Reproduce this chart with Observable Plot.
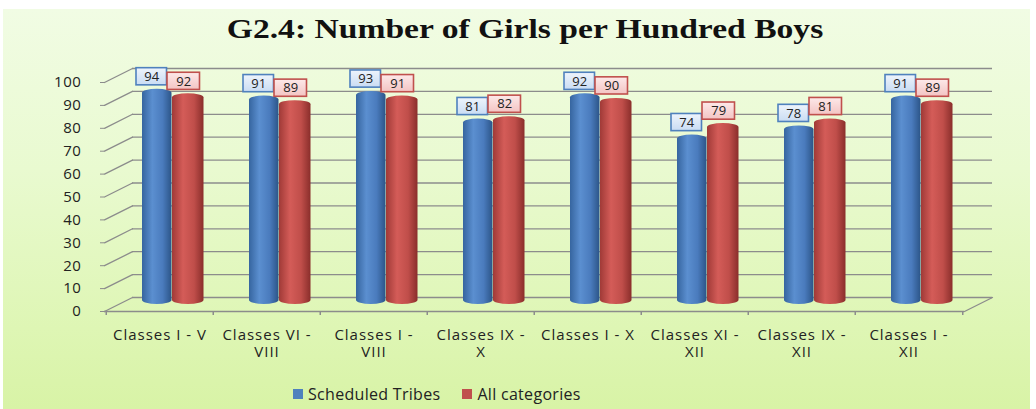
<!DOCTYPE html>
<html>
<head>
<meta charset="utf-8">
<script src="https://cdn.jsdelivr.net/npm/d3@7"></script>
<script src="https://cdn.jsdelivr.net/npm/@observablehq/plot@0.6"></script>
<style>
  html, body { margin: 0; padding: 0; width: 1036px; height: 409px; background: #fff; overflow: hidden; }
  #bg { position: absolute; left: 3px; top: 9px; width: 1027px; height: 400px;
        background: linear-gradient(to bottom, #f1fce4 0%, #e9fad0 40%, #def6b4 80%, #d8f3a6 100%); }
  #title { position: absolute; left: 7px; top: 13px; width: 1036px; text-align: center;
           font-family: "Liberation Serif", "Times New Roman", serif; font-weight: bold; font-size: 28px; color: #111;
           transform: scaleX(1.2); transform-origin: 518px 0; }
  #chart { position: absolute; left: 0; top: 50px; }
  #legend { position: absolute; left: 293px; top: 383px; display: flex; align-items: center;
            font-family: "Open Sans", sans-serif; font-size: 16px; color: #222; letter-spacing: 0.3px; }
  .sw { display: inline-block; width: 10px; height: 10px; margin-right: 5px; }
  .item { display: flex; align-items: center; margin-right: 22px; }
</style>
</head>
<body>
<div id="bg"></div>
<div id="title">G2.4: Number of Girls per Hundred Boys</div>
<div id="chart"></div>
<div id="legend"></div>
<script>
const categories = ["Classes I - V", "Classes VI -\nVIII", "Classes I -\nVIII", "Classes IX -\nX",
                    "Classes I - X", "Classes XI -\nXII", "Classes IX -\nXII", "Classes I -\nXII"];
const stValues = [94, 91, 93, 81, 92, 74, 78, 91];
const allValues = [92, 89, 91, 82, 90, 79, 81, 89];
const yTicks = [0, 10, 20, 30, 40, 50, 60, 70, 80, 90, 100];
const seriesNames = ["Scheduled Tribes", "All categories"];
const seriesColors = ["#4f81bd", "#c0504d"];

const rows = categories.map((c, i) => ({cat: c, st: stValues[i], all: allValues[i]}));
const half = 107.5 / 2;
const line = {draw(ctx, l) { ctx.moveTo(0, 0); ctx.lineTo(0, -l); }};
const gridColor = "#8c8c8c";

const chart = Plot.plot({
  width: 1036, height: 320,
  marginTop: 32, marginBottom: 59, marginLeft: 104, marginRight: 72,
  style: {background: "transparent", fontFamily: "Open Sans, sans-serif", fontSize: "14px", color: "#222"},
  x: {domain: categories, padding: 0, axis: null},
  y: {domain: [0, 100], axis: null},
  marks: [
    Plot.ruleY(yTicks, {y: d => d, dx: 28, dy: -14, stroke: gridColor, strokeWidth: 1.3}),
    Plot.vector(yTicks, {y: d => d, frameAnchor: "left", length: 31.3, rotate: 63.4, anchor: "start",
                         shape: line, stroke: gridColor, strokeWidth: 1.3}),
    Plot.vector([0], {y: d => d, frameAnchor: "right", length: 31.3, rotate: 63.4, anchor: "start",
                      shape: line, stroke: gridColor, strokeWidth: 1.3}),
    Plot.ruleY([0], {stroke: gridColor, strokeWidth: 1.5}),
    Plot.ruleX(categories, {x: d => d, dx: -half, y1: 0, y2: -1.8, stroke: gridColor, strokeWidth: 1.5}),
    Plot.ruleX(categories.slice(-1), {x: d => d, dx: half, y1: 0, y2: -1.8, stroke: gridColor, strokeWidth: 1.5}),
    Plot.axisY(yTicks, {tickSize: 4, tickPadding: 19, line: true, stroke: gridColor, fill: "#222", fontSize: 15,
                        label: null}),
    Plot.axisX({tickSize: 0, tickPadding: 16, lineHeight: 1.15, fill: "#222", fontSize: 15, label: null}),
    Plot.barY(rows, {x: "cat", y: "st", fill: "url(#gBlue)", insetLeft: 36, insetRight: 41.5, dy: -7, rx: 15, ry: 4}),
    Plot.barY(rows, {x: "cat", y1: d => d.st + 1.7, y2: d => d.st + 9.2, insetLeft: 30, insetRight: 46.5, dy: -7,
                     fill: "url(#gBlueBox)", stroke: "#4f81bd", strokeWidth: 1.6}),
    Plot.text(rows, {x: "cat", y: d => d.st + 5.45, dx: 45.5 - half, dy: -7, text: d => String(d.st),
                     fill: "#222", fontSize: 13}),
    Plot.barY(rows, {x: "cat", y: "all", fill: "url(#gRed)", insetLeft: 66, insetRight: 9.5, dy: -7, rx: 16, ry: 4}),
    Plot.barY(rows, {x: "cat", y1: d => d.all + 1.7, y2: d => d.all + 9.2, insetLeft: 61, insetRight: 13.5, dy: -7,
                     fill: "url(#gRedBox)", stroke: "#c0504d", strokeWidth: 1.6}),
    Plot.text(rows, {x: "cat", y: d => d.all + 5.45, dx: 77.5 - half, dy: -7, text: d => String(d.all),
                     fill: "#222", fontSize: 13})
  ]
});

chart.querySelectorAll("g[aria-label='x-axis tick label'] text").forEach(t => t.setAttribute("letter-spacing", "1"));
chart.querySelectorAll("g[aria-label='y-axis tick label'] text").forEach(t => t.setAttribute("letter-spacing", "0.6"));

const ns = "http://www.w3.org/2000/svg";
const defs = document.createElementNS(ns, "defs");
function grad(id, stops, vertical) {
  const g = document.createElementNS(ns, "linearGradient");
  g.setAttribute("id", id);
  g.setAttribute("x1", "0"); g.setAttribute("y1", "0");
  g.setAttribute("x2", vertical ? "0" : "1"); g.setAttribute("y2", vertical ? "1" : "0");
  for (const [o, c] of stops) {
    const s = document.createElementNS(ns, "stop");
    s.setAttribute("offset", o); s.setAttribute("stop-color", c);
    g.appendChild(s);
  }
  defs.appendChild(g);
}
grad("gBlue", [["0", "#36659f"], ["0.35", "#5b8fd0"], ["0.7", "#4a7bbd"], ["1", "#2c5588"]]);
grad("gRed", [["0", "#a03a37"], ["0.35", "#d45c58"], ["0.7", "#c04e4a"], ["1", "#8a2e2b"]]);
grad("gBlueBox", [["0", "#eef4fc"], ["1", "#c9dcf3"]], true);
grad("gRedBox", [["0", "#fde9e9"], ["1", "#f3c4c3"]], true);
chart.insertBefore(defs, chart.firstChild);
document.getElementById("chart").appendChild(chart);

const legend = document.getElementById("legend");
seriesNames.forEach((n, i) => {
  const item = document.createElement("div");
  item.className = "item";
  const sw = document.createElement("span");
  sw.className = "sw"; sw.style.background = seriesColors[i];
  item.appendChild(sw);
  item.appendChild(document.createTextNode(n));
  legend.appendChild(item);
});
</script>
</body>
</html>
